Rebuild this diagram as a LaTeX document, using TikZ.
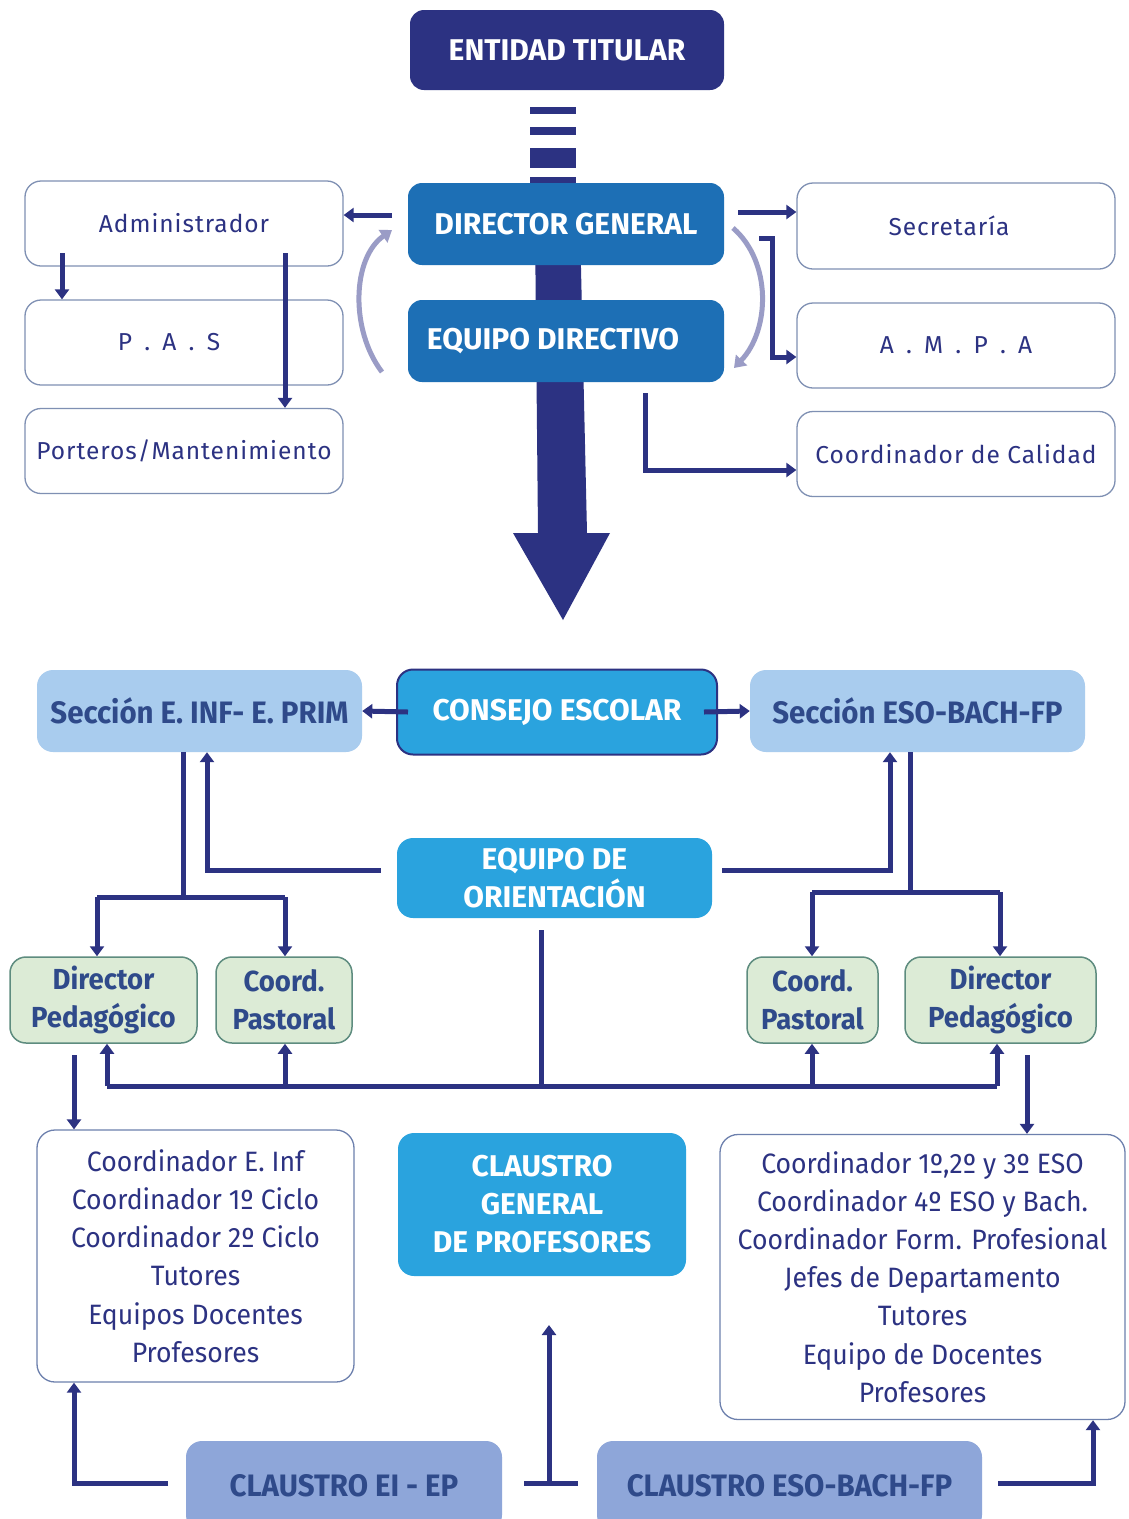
\documentclass[tikz,border=0pt]{standalone}
\usepackage{fontspec}
\setmainfont{Fira Sans}
\usetikzlibrary{arrows.meta,backgrounds,calc}
\definecolor{navy}{HTML}{2C3282}
\definecolor{dgblue}{HTML}{1D6FB5}
\definecolor{cyanb}{HTML}{2AA3DE}
\definecolor{lightb}{HTML}{A9CCEE}
\definecolor{peri}{HTML}{8EA6D9}
\definecolor{greenf}{HTML}{DCEBD6}
\definecolor{greend}{HTML}{5E8C7F}
\definecolor{arcg}{HTML}{9A9CC6}
\definecolor{boxg}{HTML}{7F90B3}
\definecolor{secnavy}{HTML}{2F4A8A}
\newfontfamily\condfont{Fira Sans}[FakeStretch=0.95]
\newfontfamily\spacedfont{Fira Sans}[LetterSpace=4]
\tikzset{
  hdr/.style={rounded corners=14pt, text=white, align=center, inner sep=0pt,
    font=\fontsize{30}{33}\selectfont\bfseries},
  wbox/.style={draw=boxg, line width=1.3pt, rounded corners=16pt, fill=white,
    text=navy, align=center, inner sep=0pt, minimum width=318pt, minimum height=85pt,
    font=\spacedfont\fontsize{24.5}{28}\selectfont},
  secbox/.style={fill=lightb, rounded corners=16pt, text=secnavy, align=center,
    inner sep=0pt, minimum height=82pt, font=\condfont\fontsize{31}{34}\selectfont\bfseries},
  gbox/.style={fill=greenf, draw=greend, line width=1.5pt, rounded corners=16pt,
    text=secnavy, align=center, inner sep=0pt, minimum height=86pt,
    font=\condfont\fontsize{29}{38}\selectfont\bfseries},
  lbox/.style={draw=secnavy!70, line width=1.3pt, rounded corners=18pt, fill=white,
    text=navy, align=center, inner sep=0pt, font=\condfont\fontsize{28}{38.2}\selectfont},
  cbox/.style={fill=peri, rounded corners=16pt, text=secnavy, align=center,
    inner sep=0pt, minimum height=90pt, font=\condfont\fontsize{31}{34}\selectfont\bfseries},
  ln/.style={draw=navy, line width=5pt},
  arr/.style={draw=navy, line width=5pt, -{Triangle[length=10pt,width=14pt]}},
  garr/.style={draw=arcg, line width=5pt, -{Triangle[length=11pt,width=15pt]}},
}
\begin{document}
\begin{tikzpicture}[x=1pt,y=-1pt]
\useasboundingbox (0,0) rectangle (1129,1519);
% ---------- top nodes
\node[hdr, fill=navy, minimum width=314pt, minimum height=80pt] (et) at (567,50) {ENTIDAD TITULAR};
\node[hdr, fill=dgblue, minimum width=316pt, minimum height=82pt] (dg) at (566,224) {DIRECTOR GENERAL};
\node[hdr, fill=dgblue, minimum width=316pt, minimum height=82pt] (ed) at (566,341) {EQUIPO DIRECTIVO\hspace*{26pt}};
\node[wbox] (adm) at (184,223.5) {Administrador};
\node[wbox] (pas) at (184,342.5) {P\enspace.\enspace A\enspace.\enspace S\hspace*{30pt}};
\node[wbox] (por) at (184,451) {Porteros/Mantenimiento};
\node[wbox, minimum height=86pt] (sec) at (956,226) {Secretaría\hspace*{14pt}};
\node[wbox] (ampa) at (956,345.5) {A\enspace.\enspace M\enspace.\enspace P\enspace.\enspace A};
\node[wbox] (cal) at (956,454) {Coordinador de Calidad};
% ---------- middle nodes
\node[secbox, minimum width=325pt] (secL) at (199.5,711) {Sección E. INF- E. PRIM};
\node[hdr, fill=cyanb, draw=navy, line width=2pt, rounded corners=16pt, minimum width=320pt, minimum height=85pt] (ce) at (557,712) {CONSEJO ESCOLAR};
\node[secbox, minimum width=335pt] (secR) at (917.5,711) {Sección ESO-BACH-FP};
\node[hdr, fill=cyanb, rounded corners=16pt, minimum width=315pt, minimum height=80pt,
  font=\fontsize{30}{38}\selectfont\bfseries] (eo) at (554.5,878) {EQUIPO DE\\ORIENTACIÓN};
\node[gbox, minimum width=187pt] (dpL) at (103.5,1000) {Director\\Pedagógico};
\node[gbox, minimum width=136pt] (cpL) at (284,1000) {Coord.\\Pastoral};
\node[gbox, minimum width=131pt] (cpR) at (812.5,1000) {Coord.\\Pastoral};
\node[gbox, minimum width=191pt] (dpR) at (1000.5,1000) {Director\\Pedagógico};
% ---------- bottom nodes
\node[lbox, minimum width=317pt, minimum height=252pt] (listL) at (195.5,1256)
  {Coordinador E. Inf\\Coordinador 1º Ciclo\\Coordinador 2º Ciclo\\Tutores\\Equipos Docentes\\Profesores};
\node[hdr, fill=cyanb, rounded corners=16pt, minimum width=288pt, minimum height=143pt,
  font=\fontsize{30}{38}\selectfont\bfseries] (cg) at (542,1204.5) {CLAUSTRO\\GENERAL\\DE PROFESORES};
\node[lbox, minimum width=405pt, minimum height=285pt] (listR) at (922.5,1277)
  {Coordinador 1º,2º y 3º ESO\\Coordinador 4º ESO y Bach.\\Coordinador Form. Profesional\\Jefes de Departamento\\Tutores\\Equipo de Docentes\\Profesores};
\node[cbox, minimum width=316pt] (cei) at (344,1486) {CLAUSTRO EI - EP};
\node[cbox, minimum width=385pt] (ceso) at (789.5,1486) {CLAUSTRO ESO-BACH-FP};
% ---------- helper coordinates
\coordinate (pA) at (392,215);
\coordinate (pB) at (738,212);
\coordinate (pC) at (759,238);
\coordinate (pC1) at (772,238);
\coordinate (pC2) at (772,357);
\coordinate (pD) at (645,393);
\coordinate (pD1) at (645,470);
\coordinate (pE) at (62,253);
\coordinate (pF) at (285,253);
\coordinate (lA) at (183,760);
\coordinate (lA1) at (183,897);
\coordinate (lB1) at (97,897);
\coordinate (lB2) at (285,897);
\coordinate (lC) at (207,870);
\coordinate (rA) at (910,760);
\coordinate (rA1) at (910,892);
\coordinate (rB1) at (812,892);
\coordinate (rB2) at (1000,892);
\coordinate (rC) at (890,870);
\coordinate (mA) at (541,930);
\coordinate (mA1) at (541,1086);
\coordinate (hL) at (107,1086);
\coordinate (hLc) at (285,1086);
\coordinate (hRc) at (812,1086);
\coordinate (hR) at (997,1086);
\coordinate (dL) at (74,1055);
\coordinate (dR) at (1027,1055);
\coordinate (bL) at (168,1483);
\coordinate (bL1) at (74,1483);
\coordinate (bM1) at (524,1483);
\coordinate (bM2) at (578,1483);
\coordinate (bM) at (549,1483);
\coordinate (bMt) at (549,1325);
\coordinate (bR) at (998,1483);
\coordinate (bR1) at (1093,1483);
% ---------- background shapes
\begin{scope}[on background layer]
  \fill[white] (0,0) rectangle (1129,1519);
  \foreach \ya/\yb in {107/114,127/135,148/168,177/186}
    \fill[navy] (530,\ya) rectangle (576,\yb);
  \fill[navy] (535,224) -- (580,224) -- (587,533) -- (610,533)
     -- (563,620) -- (513,533) -- (538,533) -- cycle;
\end{scope}
% ---------- connectors
\draw[arr] (pA) -- (pA -| adm.east);
\draw[arr] (pB) -- (pB -| sec.west);
\draw[arr] (pC) -- (pC1) -- (pC2) -- (pC2 -| ampa.west);
\draw[arr] (pD) -- (pD1) -- (pD1 -| cal.west);
\draw[arr] (pE) -- (pE |- pas.north);
\draw[arr] (pF) -- (pF |- por.north);
\draw[garr] (382,372) .. controls (350,330) and (352,258) .. (392,230);
\draw[garr] (733,228) .. controls (772,262) and (770,330) .. (734,368);
\draw[arr] (ce.west) ++(12,0) -- (secL.east);
\draw[arr] (ce.east) ++(-14,0) -- (secR.west);
% left branch
\draw[ln] (lA |- secL.south) -- (lA1);
\draw[ln] (lB1) -- (lB2);
\draw[arr] (lB1) -- (lB1 |- dpL.north);
\draw[arr] (lB2) -- (lB2 |- cpL.north);
\draw[arr] (lC -| eo.west) ++(-16,0) -- (lC) -- (lC |- secL.south);
% right branch
\draw[ln] (rA |- secR.south) -- (rA1);
\draw[ln] (rB1) -- (rB2);
\draw[arr] (rB1) -- (rB1 |- cpR.north);
\draw[arr] (rB2) -- (rB2 |- dpR.north);
\draw[arr] (rC -| eo.east) ++(10,0) -- (rC) -- (rC |- secR.south);
% orientacion -> row of four
\draw[ln] (mA) -- (mA1);
\draw[ln] (hL) -- (hR);
\draw[arr] (hL) -- (hL |- dpL.south);
\draw[arr] (hLc) -- (hLc |- cpL.south);
\draw[arr] (hRc) -- (hRc |- cpR.south);
\draw[arr] (hR) -- (hR |- dpR.south);
\draw[arr] (dL) -- (dL |- listL.north);
\draw[arr] (dR) -- (dR |- listR.north);
% claustros
\draw[arr] (bL) -- (bL1) -- (bL1 |- listL.south);
\draw[ln] (bM1) -- (bM2);
\draw[arr] (bM) -- (bMt);
\draw[arr] (bR) -- (bR1) -- (bR1 |- listR.south);
\end{tikzpicture}
\end{document}
